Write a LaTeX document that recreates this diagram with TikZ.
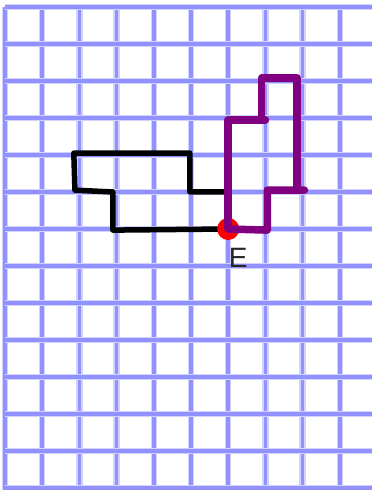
\documentclass[tikz,border=0pt]{standalone}
\usepackage{fontspec}
\setmainfont{Liberation Sans}
\usepackage{tikz}
\usetikzlibrary{positioning}
\definecolor{gridc}{RGB}{145,145,255}
\definecolor{gridh}{RGB}{210,210,255}
\definecolor{walkc}{RGB}{128,0,128}

\begin{document}
\begin{tikzpicture}[x=37.2pt,y=-37pt,line cap=round,line join=round]
  \useasboundingbox (-0.134,-0.189) rectangle (9.866,13.054);
  % squared paper
  \foreach \i in {0,...,9} {\draw[gridh,line width=6.5pt,line cap=butt] (\i,0)--(\i,13.054);
    \draw[gridc,line width=3.5pt,line cap=butt] (\i,0)--(\i,13.054);}
  \foreach \j in {0,...,13} {\draw[gridh,line width=6.5pt,line cap=butt] (0,\j)--(9.866,\j);
    \draw[gridc,line width=3.5pt,line cap=butt] (0,\j)--(9.866,\j);}
  \coordinate (E) at (6,6);
  \draw[black,line width=5.5pt] (E) -- (2.9,6.03) -- (2.9,5) -- (1.88,4.95) -- (1.85,3.95) -- (4.97,3.95) -- (4.97,5) -- (6,5) -- (E);
  \fill[red] (E) circle (11pt);
  \draw[walkc,line width=7.5pt] (E) -- (6,3.05) -- (7,3.05);
  \draw[walkc,line width=7.5pt] (6.9,3.05) -- (6.9,1.92) -- (7.85,1.92) -- (7.85,4.95);
  \draw[walkc,line width=7.5pt] (8.05,4.95) -- (7.05,4.95) -- (7.05,6.03) -- (E);
  \node[font=\fontsize{28}{30}\selectfont,text=black!85,inner sep=0pt] (lblE) at (6.27,6.78) {E};
\end{tikzpicture}
\end{document}
